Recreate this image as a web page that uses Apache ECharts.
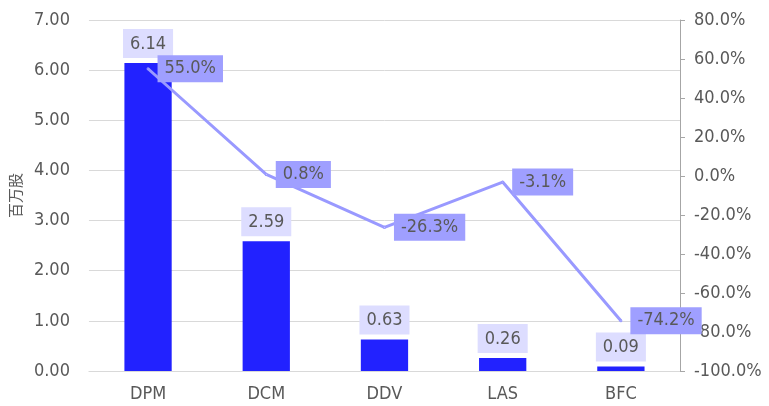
<!DOCTYPE html>
<html>
<head>
<meta charset="utf-8">
<script src="https://cdn.jsdelivr.net/npm/echarts@6/dist/echarts.min.js"></script>
<style>
  html, body { margin: 0; padding: 0; background: #fff; }
  #myChart { width: 769px; height: 406px; }
</style>
</head>
<body>
<div id="myChart"></div>
<script>
// 数据
var categories = ['DPM', 'DCM', 'DDV', 'LAS', 'BFC'];
var volumes = [6.14, 2.59, 0.63, 0.26, 0.09];      // 百万股
var changes = [55.0, 0.8, -26.3, -3.1, -74.2];     // %

var font = 'DejaVu Sans Condensed';
var textColor = '#595959';

var myChart = echarts.init(document.getElementById('myChart'));
var option = {
  animation: false,
  grid: { left: 87, right: 89, top: 20, bottom: 35 },
  xAxis: {
    type: 'category',
    data: categories,
    axisLine: { lineStyle: { color: '#d9d9d9' } },
    axisTick: { show: false },
    axisLabel: { color: textColor, fontFamily: font, fontSize: 18, margin: 14 }
  },
  yAxis: [
    {
      type: 'value',
      min: 0, max: 7, interval: 1,
      name: '百万股',
      nameLocation: 'middle',
      nameGap: 62,
      nameTextStyle: { color: textColor, fontFamily: 'Noto Sans CJK SC', fontSize: 15 },
      axisLine: { show: false },
      axisTick: { show: false },
      axisLabel: { color: textColor, fontFamily: font, fontSize: 18, margin: 19,
        formatter: function (v) { return v.toFixed(2); } },
      splitLine: { lineStyle: { color: '#d9d9d9' } }
    },
    {
      type: 'value',
      min: -100, max: 80, interval: 20,
      position: 'right',
      axisLine: { show: true, lineStyle: { color: '#a6a6a6' } },
      axisTick: { show: true, length: 5, lineStyle: { color: '#a6a6a6' } },
      axisLabel: { color: textColor, fontFamily: font, fontSize: 18, margin: 14,
        formatter: function (v) { return v.toFixed(1) + '%'; } },
      splitLine: { show: false }
    }
  ],
  series: [
    {
      name: '成交量',
      type: 'bar',
      data: volumes,
      barWidth: '40%',
      itemStyle: { color: '#2222ff' },
      label: {
        show: true, position: 'top', distance: 5,
        color: textColor, fontFamily: font, fontSize: 18,
        backgroundColor: '#ddddff', padding: [6, 7, 5, 7],
        formatter: function (p) { return p.value.toFixed(2); }
      }
    },
    {
      name: '变化',
      type: 'line',
      yAxisIndex: 1,
      data: changes,
      showSymbol: true,
      symbolSize: 1,
      z: 5,
      lineStyle: { color: '#9999ff', width: 3 },
      itemStyle: { color: '#9999ff' },
      label: {
        show: true, position: 'right', distance: 8,
        color: textColor, fontFamily: font, fontSize: 18,
        backgroundColor: '#9f9fff', padding: [5, 7, 4, 7],
        formatter: function (p) { return p.value.toFixed(1) + '%'; }
      }
    }
  ]
};
myChart.setOption(option);
</script>
</body>
</html>
